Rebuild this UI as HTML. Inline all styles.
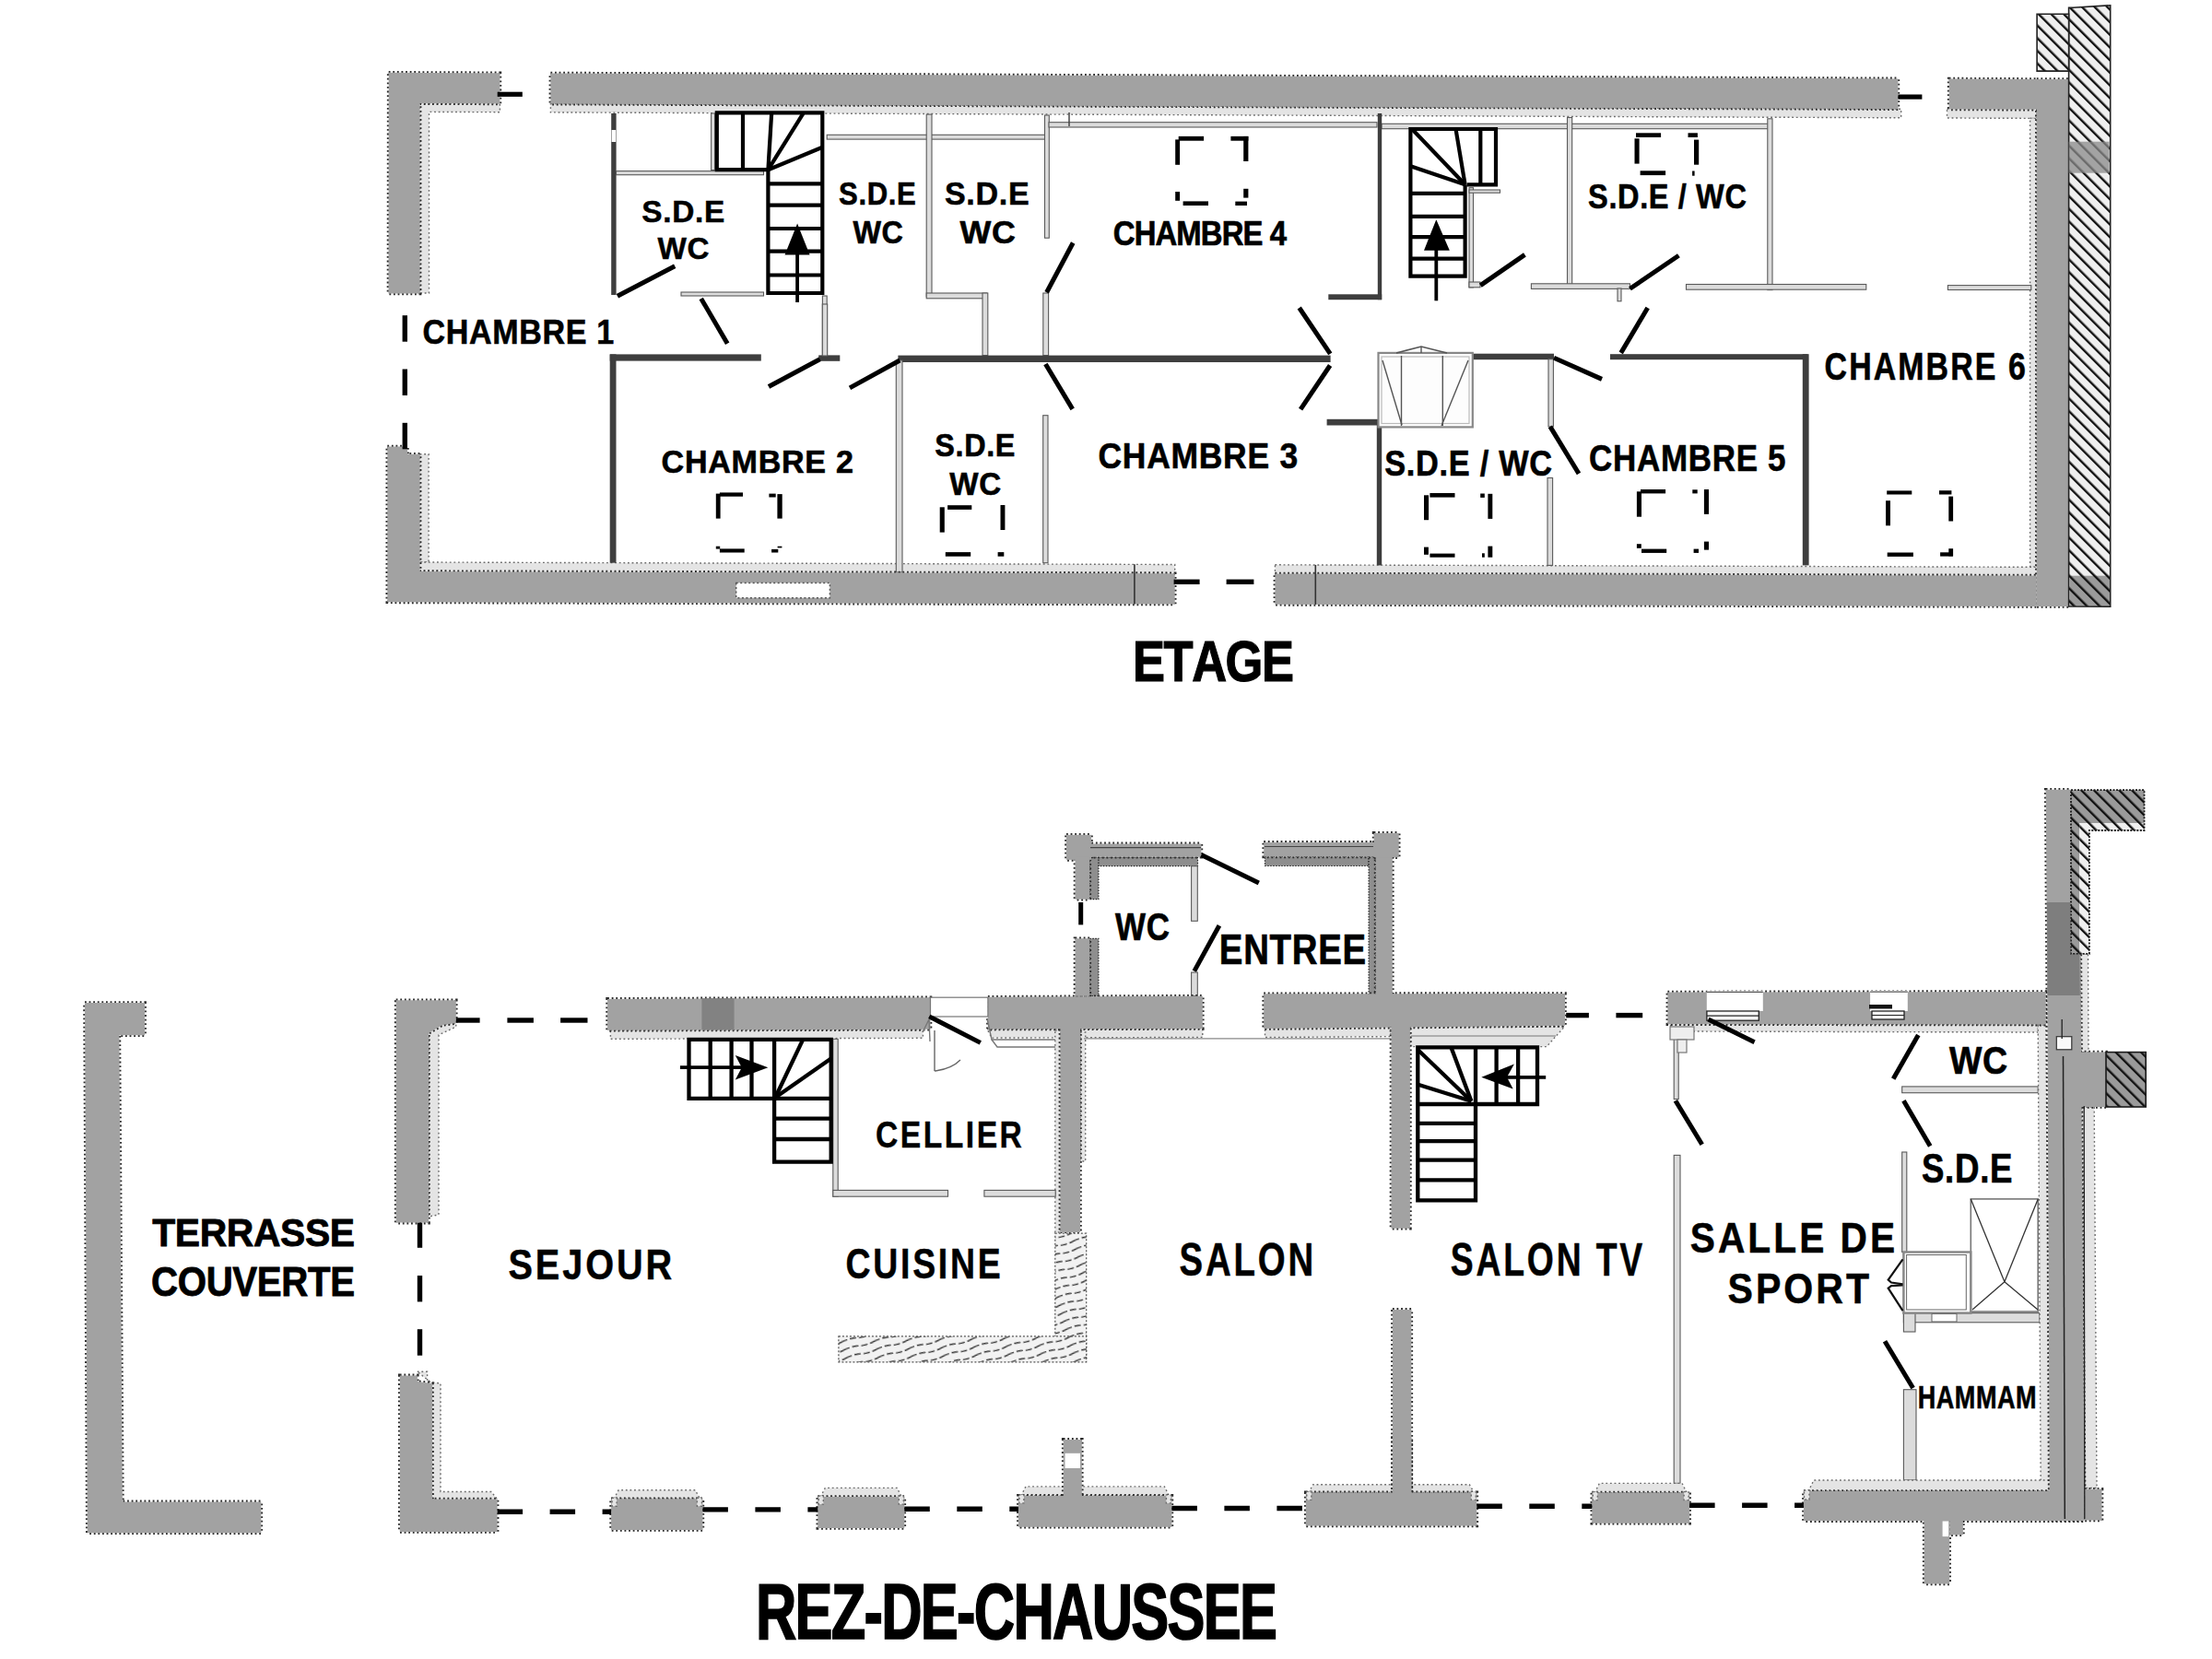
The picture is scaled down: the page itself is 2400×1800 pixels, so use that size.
<!DOCTYPE html>
<html><head><meta charset="utf-8"><title>Plan</title>
<style>
html,body{margin:0;padding:0;background:#fff;}
svg{display:block;}
text{font-family:"Liberation Sans",sans-serif;font-weight:bold;fill:#000;font-kerning:none;}
.ws{fill:none;stroke:#2a2a2a;stroke-width:3.6;stroke-dasharray:1.8 2.8;}
.wf{fill:#a2a2a2;}
.l{fill:#e4e4e4;stroke:#6a6a6a;stroke-width:1.4;stroke-dasharray:1.8 2.8;}
.p{fill:#dcdcdc;stroke:#5a5a5a;stroke-width:1.1;}
.d{fill:#3e3e3e;}
.wh{fill:#fff;}
.l2{fill:#8e8e8e;stroke:#222;stroke-width:1.2;stroke-dasharray:1.5 1.5;}
.h{fill:url(#hatch);stroke:#222;stroke-width:1.6;}
.wd{fill:url(#wood);stroke:#555;stroke-width:1.2;stroke-dasharray:2 2;}
</style></head><body>
<svg width="2400" height="1800" viewBox="0 0 2400 1800">
<defs>
<pattern id="hatch" patternUnits="userSpaceOnUse" width="9.7" height="9.7" patternTransform="rotate(-45)">
<rect width="9.7" height="9.7" fill="#efefef"/><line x1="1.2" y1="0" x2="1.2" y2="9.7" stroke="#111" stroke-width="2.4"/>
</pattern>
<pattern id="hatchg" patternUnits="userSpaceOnUse" width="9.7" height="9.7" patternTransform="rotate(-45)">
<rect width="9.7" height="9.7" fill="#9a9a9a"/><line x1="1.2" y1="0" x2="1.2" y2="9.7" stroke="#111" stroke-width="2.4"/>
</pattern>
<pattern id="wood" patternUnits="userSpaceOnUse" width="34" height="9" patternTransform="rotate(-16)">
<rect width="34" height="9" fill="#f2f2f2"/><path d="M0,4.5 Q9,2.5 17,4.5 T34,4.5" fill="none" stroke="#333" stroke-width="1.3" stroke-dasharray="7 3"/>
</pattern>
</defs>
<rect width="2400" height="1800" fill="#fff"/>
<polygon class="l" points="455.6,112.1 542.4,112.4 542.4,121.7 465.5,121.4 465.5,318 455.6,318"/>
<polygon class="l" points="597.4,112.6 2062.7,118.2 2062.7,127.8 597.4,121.9"/>
<polygon class="l" points="2112.5,118.4 2210,118.7 2210,128.4 2112.5,128"/>
<polygon class="l" points="2202.6,128.3 2210,128.4 2210,615.3 2202.6,615.2"/>
<polygon class="l" points="455.6,492.7 465.1,492.7 465.1,610 455.6,610"/>
<polygon class="l" points="455.6,610 1274.7,612.5 1274.7,622.2 455.6,620.1"/>
<polygon class="l" points="1383.4,612.8 2210,615.3 2210,624.6 1383.4,622.5"/>
<rect class="d" x="663.2" y="123" width="5.4" height="197"/>
<rect class="p" x="668.5" y="185.6" width="160" height="4.1"/>
<rect class="p" x="771.6" y="123" width="4" height="61.5"/>
<rect class="p" x="739" y="317" width="89.5" height="4"/>
<rect class="p" x="892.4" y="321" width="4.8" height="64.6"/>
<rect class="p" x="897.2" y="146.3" width="239.2" height="4.8"/>
<rect class="p" x="1005.2" y="124.1" width="5.8" height="197.8"/>
<rect class="p" x="1005.2" y="318" width="65.6" height="5.8"/>
<rect class="p" x="1066" y="318" width="5.8" height="67.6"/>
<rect class="p" x="1133.5" y="125" width="4.8" height="133.2"/>
<rect class="p" x="1131.8" y="318" width="5.8" height="67.6"/>
<rect class="p" x="1138" y="132.7" width="356" height="5.3"/>
<rect class="p" x="1499" y="134.3" width="420" height="5.4"/>
<rect class="d" x="1494.8" y="123" width="4.4" height="202.2"/>
<rect class="d" x="1441.3" y="319.3" width="57.9" height="5.9"/>
<rect class="p" x="1594" y="203.7" width="4.5" height="108.1"/>
<rect class="p" x="1594" y="206" width="33.5" height="3.2"/>
<rect class="p" x="1594" y="306" width="12" height="5.8"/>
<rect class="p" x="1700.5" y="127.5" width="5.2" height="181.7"/>
<rect class="p" x="1917.8" y="128.8" width="5.2" height="185.8"/>
<rect class="p" x="1661.4" y="307.8" width="107.1" height="5.6"/>
<rect class="p" x="1829.5" y="308.5" width="195.3" height="5.7"/>
<rect class="p" x="2113.4" y="309.6" width="90.4" height="4.9"/>
<rect class="p" x="1755" y="313" width="4" height="13.8"/>
<rect class="d" x="661.7" y="384.4" width="164.1" height="7.2"/>
<rect class="d" x="888.2" y="385.4" width="23.1" height="6.4"/>
<rect class="d" x="974.4" y="385.6" width="469.2" height="7.4"/>
<rect class="d" x="661.7" y="384.4" width="6.8" height="226.3"/>
<rect class="p" x="972.3" y="391" width="6.7" height="230"/>
<rect class="p" x="892.3" y="330" width="5.4" height="56"/>
<rect class="p" x="1131.7" y="450.7" width="5.3" height="160"/>
<rect class="d" x="1439.6" y="454.8" width="55.6" height="6.7"/>
<rect class="d" x="1493.8" y="455" width="5.4" height="158.4"/>
<rect class="d" x="1592.4" y="383.7" width="93.6" height="6.5"/>
<rect class="p" x="1680" y="389.7" width="5.4" height="73.2"/>
<rect class="p" x="1679" y="518.5" width="5.6" height="94.9"/>
<rect class="d" x="1747" y="384.2" width="214.3" height="6"/>
<rect class="d" x="1955.8" y="384.2" width="6.8" height="229.2"/>
<polygon class="l" points="465,1116 478,1112 494.8,1110 494.8,1114 476,1123 476,1318 465,1320"/>
<polygon class="l" points="452.8,1488.3 463.6,1488.3 463.6,1499 478,1501 478,1618.5 533,1618.5 539.6,1626.6 469,1626.6 469,1501"/>
<polygon class="l" points="662.4,1117.8 1001.4,1116.8 1001.4,1126.3 662.4,1127.3"/>
<polygon class="l" points="1071,1116.6 1150.4,1116.3 1150.4,1125.8 1076,1126.1"/>
<polygon class="l" points="1172,1116.3 1304.8,1115.9 1304.8,1125.4 1172,1125.8"/>
<polygon class="l" points="1372.5,1116 1509,1114.6 1509,1124.6 1372.5,1125.5"/>
<polygon class="l" points="1529.6,1113.7 1697.7,1113.7 1678,1135.6 1529.6,1135.6"/>
<polygon class="l" points="1809.4,1110.5 2211.2,1112 2211.2,1120 1820,1119"/>
<rect class="l2" x="1182.3" y="930" width="117.2" height="9.6"/>
<rect class="l2" x="1182.3" y="930" width="9.6" height="45.7"/>
<rect class="l2" x="1182.3" y="1018.3" width="9.6" height="62.4"/>
<rect class="p" x="1292.6" y="939.7" width="6.7" height="59.6"/>
<rect class="p" x="1292.6" y="1055" width="6.7" height="25.7"/>
<rect class="l2" x="1372.5" y="929.5" width="112.6" height="10"/>
<rect class="l2" x="1485.1" y="929.5" width="7.5" height="150"/>
<polygon class="l" points="1144.8,1118 1150.4,1118 1150.4,1337 1144.8,1337"/>
<polygon class="l" points="1172,1120 1177.7,1120 1177.7,1260 1172,1260"/>
<rect class="p" x="903.8" y="1127.3" width="5.4" height="170.9"/>
<rect class="p" x="903.8" y="1291.4" width="124.7" height="6.8"/>
<rect class="p" x="1067.9" y="1291.4" width="77.3" height="6.8"/>
<rect class="p" x="1816.2" y="1117.9" width="5" height="74.6"/>
<rect class="p" x="1816.2" y="1253.4" width="6.8" height="356"/>
<rect class="p" x="2063.7" y="1178.9" width="147.5" height="6.8"/>
<rect class="p" x="2063.7" y="1250" width="5.1" height="108.5"/>
<rect class="p" x="2065.4" y="1424.6" width="147.6" height="10.2"/>
<rect class="p" x="2065.4" y="1424.6" width="12.6" height="20.4"/>
<rect class="p" x="2065.4" y="1507.7" width="13.6" height="98.3"/>
<polygon class="l" points="2211.2,1112 2219.8,1112 2223.8,1610 2214.2,1610"/>
<polygon class="l" points="2257,1034.8 2265.5,1034.8 2266,1141.6 2257.5,1141.6"/>
<polygon class="l" points="2258.5,1201 2272.2,1201 2275,1614.5 2261.8,1614.5"/>
<polygon class="l" points="666.1,1626.2 671.1,1616.8 754.4,1616.8 759.4,1626.2"/>
<polygon class="l" points="890.3,1624.1 895.3,1614.4 973.3,1614.4 978.3,1624.1"/>
<polygon class="l" points="1107.9,1622.9 1112.9,1612.9 1263.4,1612.9 1268.4,1622.9"/>
<polygon class="l" points="1419.8,1619.4 1424.8,1610.7 1594.3,1610.7 1599.3,1619.4"/>
<polygon class="l" points="1730.3,1619.6 1735.3,1609.4 1825.1,1609.4 1830.1,1619.6"/>
<polygon class="l" points="1962,1618 1968,1606 2223,1606 2223,1618"/>
<polygon class="ws" points="421.7,78.8 542.4,79.3 542.4,112.4 455.6,112.1 455.6,318.5 421.5,318.5"/>
<polygon class="ws" points="597.4,79.5 2059.4,85.4 2059.4,118.2 597.4,112.6"/>
<polygon class="ws" points="2114.7,85.6 2210.8,86 2210.8,118.7 2114.7,118.4"/>
<polygon class="ws" points="2209.8,86 2244.6,86.1 2244.6,658 2209.8,657.9"/>
<polygon class="ws" points="420.3,484.6 442,484.6 442,492.7 455.6,492.7 455.6,620.1 1274.7,622.2 1274.7,655.5 420.3,653.3"/>
<polygon class="ws" points="1383.4,622.5 2209.8,624.6 2209.8,657.9 1383.4,655.8"/>
<polygon class="ws" points="92,1088 157.1,1088 157.1,1123.2 129.4,1123.2 132.9,1629.4 283.3,1629.4 283.3,1663.3 94.8,1663.3"/>
<polygon class="ws" points="429.7,1085.3 494.8,1085.3 494.8,1110 480,1112 465,1121 465,1326.6 429.7,1326.6"/>
<polygon class="ws" points="433.8,1492.4 452.8,1492.4 452.8,1499 469,1501 469,1626.6 539.6,1626.6 539.6,1661.9 433.8,1661.9"/>
<polygon class="ws" points="659.1,1083.9 1009.5,1082.2 1009.5,1116.8 659.1,1117.8"/>
<polygon class="ws" points="1071.9,1081.8 1304.8,1080.7 1304.8,1115.9 1071.9,1116.6"/>
<polygon class="ws" points="1371.2,1078.3 1698,1078 1698,1112.8 1371.2,1116"/>
<polygon class="ws" points="1809.4,1076.5 2219.7,1076 2219.7,1111.6 1809.4,1111.1"/>
<polygon class="ws" points="1157,905.8 1184,905.8 1184,932.9 1157,932.9"/>
<polygon class="ws" points="1170.5,915.4 1303.4,915.4 1303.4,929.8 1170.5,929.8"/>
<polygon class="ws" points="1166.5,929.8 1182.3,929.8 1182.3,975.7 1166.5,975.7"/>
<polygon class="ws" points="1166.5,1018.3 1182.3,1018.3 1182.3,1080.7 1166.5,1080.7"/>
<polygon class="ws" points="1371.2,913.9 1504.1,913.9 1504.1,929.5 1371.2,929.5"/>
<polygon class="ws" points="1492.6,929.5 1510.8,929.5 1510.8,1079.3 1492.6,1079.3"/>
<polygon class="ws" points="1490.6,903.9 1517.7,903.9 1517.7,930.2 1490.6,930.2"/>
<polygon class="ws" points="1150.4,1116 1172,1116 1172,1337 1150.4,1337"/>
<polygon class="ws" points="1509.5,1112.8 1529.9,1112.8 1529.9,1332.7 1509.5,1332.7"/>
<polygon class="ws" points="1510.9,1420.9 1531.3,1420.9 1531.3,1620 1510.9,1620"/>
<polygon class="ws" points="2219.7,856.8 2246.8,856.8 2246.8,1034.8 2257.3,1034.8 2261.8,1649.5 2223.8,1649.5 2221.5,1112"/>
<polygon class="ws" points="2257,1141.6 2285,1141.6 2285,1201 2257,1201"/>
<polygon class="ws" points="2261.8,1615.7 2280.5,1615.7 2280.5,1649.5 2261.8,1649.5"/>
<polygon class="ws" points="663.1,1626.2 762.4,1626.2 762.4,1660 663.1,1660"/>
<polygon class="ws" points="887.3,1624.1 981.3,1624.1 981.3,1657.9 887.3,1657.9"/>
<polygon class="ws" points="1104.9,1622.9 1271.4,1622.9 1271.4,1656.8 1104.9,1656.8"/>
<polygon class="ws" points="1153.7,1561.9 1173.8,1561.9 1173.8,1622.9 1153.7,1622.9"/>
<polygon class="ws" points="1416.8,1619.4 1602.3,1619.4 1602.3,1655.5 1416.8,1655.5"/>
<polygon class="ws" points="1510.9,1560 1531.3,1560 1531.3,1625 1510.9,1625"/>
<polygon class="ws" points="1727.3,1619.6 1833.1,1619.6 1833.1,1652.8 1727.3,1652.8"/>
<polygon class="ws" points="1956.9,1618 2260.4,1618 2260.4,1650.1 1956.9,1650.1"/>
<polygon class="ws" points="2087.7,1649.6 2115.2,1649.6 2115.2,1718.4 2087.7,1718.4"/>
<polygon class="ws" points="2115.2,1649.6 2129.9,1649.6 2129.9,1665.3 2115.2,1665.3"/>
<polygon class="wf" points="421.7,78.8 542.4,79.3 542.4,112.4 455.6,112.1 455.6,318.5 421.5,318.5"/>
<polygon class="wf" points="597.4,79.5 2059.4,85.4 2059.4,118.2 597.4,112.6"/>
<polygon class="wf" points="2114.7,85.6 2210.8,86 2210.8,118.7 2114.7,118.4"/>
<polygon class="wf" points="2209.8,86 2244.6,86.1 2244.6,658 2209.8,657.9"/>
<polygon class="wf" points="420.3,484.6 442,484.6 442,492.7 455.6,492.7 455.6,620.1 1274.7,622.2 1274.7,655.5 420.3,653.3"/>
<polygon class="wf" points="1383.4,622.5 2209.8,624.6 2209.8,657.9 1383.4,655.8"/>
<polygon class="wf" points="92,1088 157.1,1088 157.1,1123.2 129.4,1123.2 132.9,1629.4 283.3,1629.4 283.3,1663.3 94.8,1663.3"/>
<polygon class="wf" points="429.7,1085.3 494.8,1085.3 494.8,1110 480,1112 465,1121 465,1326.6 429.7,1326.6"/>
<polygon class="wf" points="433.8,1492.4 452.8,1492.4 452.8,1499 469,1501 469,1626.6 539.6,1626.6 539.6,1661.9 433.8,1661.9"/>
<polygon class="wf" points="659.1,1083.9 1009.5,1082.2 1009.5,1116.8 659.1,1117.8"/>
<polygon class="wf" points="1071.9,1081.8 1304.8,1080.7 1304.8,1115.9 1071.9,1116.6"/>
<polygon class="wf" points="1371.2,1078.3 1698,1078 1698,1112.8 1371.2,1116"/>
<polygon class="wf" points="1809.4,1076.5 2219.7,1076 2219.7,1111.6 1809.4,1111.1"/>
<polygon class="wf" points="1157,905.8 1184,905.8 1184,932.9 1157,932.9"/>
<polygon class="wf" points="1170.5,915.4 1303.4,915.4 1303.4,929.8 1170.5,929.8"/>
<polygon class="wf" points="1166.5,929.8 1182.3,929.8 1182.3,975.7 1166.5,975.7"/>
<polygon class="wf" points="1166.5,1018.3 1182.3,1018.3 1182.3,1080.7 1166.5,1080.7"/>
<polygon class="wf" points="1371.2,913.9 1504.1,913.9 1504.1,929.5 1371.2,929.5"/>
<polygon class="wf" points="1492.6,929.5 1510.8,929.5 1510.8,1079.3 1492.6,1079.3"/>
<polygon class="wf" points="1490.6,903.9 1517.7,903.9 1517.7,930.2 1490.6,930.2"/>
<polygon class="wf" points="1150.4,1116 1172,1116 1172,1337 1150.4,1337"/>
<polygon class="wf" points="1509.5,1112.8 1529.9,1112.8 1529.9,1332.7 1509.5,1332.7"/>
<polygon class="wf" points="1510.9,1420.9 1531.3,1420.9 1531.3,1620 1510.9,1620"/>
<polygon class="wf" points="2219.7,856.8 2246.8,856.8 2246.8,1034.8 2257.3,1034.8 2261.8,1649.5 2223.8,1649.5 2221.5,1112"/>
<polygon class="wf" points="2257,1141.6 2285,1141.6 2285,1201 2257,1201"/>
<polygon class="wf" points="2261.8,1615.7 2280.5,1615.7 2280.5,1649.5 2261.8,1649.5"/>
<polygon class="wf" points="663.1,1626.2 762.4,1626.2 762.4,1660 663.1,1660"/>
<polygon class="wf" points="887.3,1624.1 981.3,1624.1 981.3,1657.9 887.3,1657.9"/>
<polygon class="wf" points="1104.9,1622.9 1271.4,1622.9 1271.4,1656.8 1104.9,1656.8"/>
<polygon class="wf" points="1153.7,1561.9 1173.8,1561.9 1173.8,1622.9 1153.7,1622.9"/>
<polygon class="wf" points="1416.8,1619.4 1602.3,1619.4 1602.3,1655.5 1416.8,1655.5"/>
<polygon class="wf" points="1510.9,1560 1531.3,1560 1531.3,1625 1510.9,1625"/>
<polygon class="wf" points="1727.3,1619.6 1833.1,1619.6 1833.1,1652.8 1727.3,1652.8"/>
<polygon class="wf" points="1956.9,1618 2260.4,1618 2260.4,1650.1 1956.9,1650.1"/>
<polygon class="wf" points="2087.7,1649.6 2115.2,1649.6 2115.2,1718.4 2087.7,1718.4"/>
<polygon class="wf" points="2115.2,1649.6 2129.9,1649.6 2129.9,1665.3 2115.2,1665.3"/>
<polygon class="h" points="2244.6,8.3 2249.2,8.3 2289.7,5.8 2289.7,658.1 2244.6,658"/>
<polygon class="h" points="2210.1,15.2 2244.6,15.2 2244.6,77.1 2210.1,77.1"/>
<rect x="2244.6" y="153.7" width="43.9" height="34" fill="#8a8a8a" opacity="0.75"/>
<rect x="2245.5" y="624.7" width="43.5" height="32.3" fill="url(#hatchg)"/>
<rect class="wh" x="798.7" y="632.4" width="101.7" height="16.3"/>
<rect x="798.7" y="632.4" width="101.7" height="16.3" fill="none" stroke="#555" stroke-width="1.5" stroke-dasharray="2 2.5"/>
<line x1="1230.9" y1="612.3" x2="1230.9" y2="655.4" stroke="#333" stroke-width="1.6"/>
<line x1="1427.3" y1="612.9" x2="1427.3" y2="655.9" stroke="#333" stroke-width="1.6"/>
<line x1="539.7" y1="102.3" x2="566.8" y2="102.3" stroke="#000" stroke-width="5.2"/>
<line x1="2059.4" y1="105.1" x2="2085.4" y2="105.1" stroke="#000" stroke-width="5.2"/>
<line x1="1273.6" y1="631.3" x2="1301.6" y2="631.3" stroke="#000" stroke-width="5.4"/>
<line x1="1330.6" y1="631.3" x2="1360.4" y2="631.3" stroke="#000" stroke-width="5.4"/>
<line x1="439.3" y1="342.2" x2="439.3" y2="370.7" stroke="#000" stroke-width="5.4"/>
<line x1="439.3" y1="400.5" x2="439.3" y2="429" stroke="#000" stroke-width="5.4"/>
<line x1="439.3" y1="458.8" x2="439.3" y2="487.3" stroke="#000" stroke-width="5.4"/>
<rect class="wh" x="663.6" y="141" width="4.6" height="13"/>
<line x1="1160" y1="122" x2="1160" y2="137" stroke="#444" stroke-width="1.5"/>
<rect x="1495.5" y="382.9" width="102.3" height="80.5" fill="#fdfdfd" stroke="#888" stroke-width="2.2" />
<rect x="1499" y="387" width="95" height="72.5" fill="none" stroke="#bbb" stroke-width="1.2" />
<line x1="1520.5" y1="386" x2="1520.5" y2="462" stroke="#555" stroke-width="1.4"/>
<line x1="1565.3" y1="386" x2="1565.3" y2="462" stroke="#555" stroke-width="1.4"/>
<line x1="1500" y1="391" x2="1521" y2="461" stroke="#555" stroke-width="1.4"/>
<line x1="1593" y1="391" x2="1564" y2="462" stroke="#555" stroke-width="1.4"/>
<polyline points="1515,383 1542,376 1570,383" fill="none" stroke="#555" stroke-width="1.6" />
<line x1="1542" y1="376" x2="1542" y2="383" stroke="#555" stroke-width="1.4"/>
<polyline points="833.4,184.2 777.8,184.2 777.8,122.3 892.3,122.3 892.3,318 833.4,318 833.4,184.2" fill="none" stroke="#000" stroke-width="4.2" />
<line x1="806" y1="122.3" x2="806" y2="184.2" stroke="#000" stroke-width="4.2"/>
<line x1="833.4" y1="199.4" x2="892.3" y2="199.4" stroke="#000" stroke-width="4.2"/>
<line x1="833.4" y1="222.7" x2="892.3" y2="222.7" stroke="#000" stroke-width="4.2"/>
<line x1="833.4" y1="248" x2="892.3" y2="248" stroke="#000" stroke-width="4.2"/>
<line x1="833.4" y1="272.6" x2="892.3" y2="272.6" stroke="#000" stroke-width="4.2"/>
<line x1="833.4" y1="298.5" x2="892.3" y2="298.5" stroke="#000" stroke-width="4.2"/>
<line x1="833.4" y1="184.2" x2="837.2" y2="122.3" stroke="#000" stroke-width="4.2"/>
<line x1="833.4" y1="184.2" x2="871.9" y2="122.3" stroke="#000" stroke-width="4.2"/>
<line x1="833.4" y1="184.2" x2="892.3" y2="159.8" stroke="#000" stroke-width="4.2"/>
<line x1="865.1" y1="262" x2="865.1" y2="328" stroke="#000" stroke-width="3.8"/>
<polygon points="865.1,242.6 851.5,276.5 878.6,276.5" fill="#000" stroke="none" stroke-width="0" />
<polyline points="1591.8,200.3 1623,200.3 1623,140 1530.4,140 1530.4,299.6 1589.6,299.6 1589.6,200.3" fill="none" stroke="#000" stroke-width="4.2" />
<line x1="1606.3" y1="140" x2="1606.3" y2="200.3" stroke="#000" stroke-width="4.2"/>
<line x1="1530.4" y1="209.9" x2="1589.6" y2="209.9" stroke="#000" stroke-width="4.2"/>
<line x1="1530.4" y1="234.9" x2="1589.6" y2="234.9" stroke="#000" stroke-width="4.2"/>
<line x1="1530.4" y1="257.2" x2="1589.6" y2="257.2" stroke="#000" stroke-width="4.2"/>
<line x1="1530.4" y1="280.6" x2="1589.6" y2="280.6" stroke="#000" stroke-width="4.2"/>
<line x1="1589.6" y1="200.3" x2="1532" y2="140" stroke="#000" stroke-width="4.2"/>
<line x1="1589.6" y1="200.3" x2="1579.5" y2="140" stroke="#000" stroke-width="4.2"/>
<line x1="1589.6" y1="200.3" x2="1530.4" y2="180.2" stroke="#000" stroke-width="4.2"/>
<line x1="1558.3" y1="258" x2="1558.3" y2="326.3" stroke="#000" stroke-width="3.8"/>
<polygon points="1558.3,238.2 1545,271.7 1572.8,271.7" fill="#000" stroke="none" stroke-width="0" />
<line x1="669.9" y1="321.2" x2="732.2" y2="288.7" stroke="#000" stroke-width="5"/>
<line x1="760.7" y1="323.9" x2="789.2" y2="372.7" stroke="#000" stroke-width="5"/>
<line x1="834" y1="419.5" x2="889.6" y2="389.7" stroke="#000" stroke-width="5"/>
<line x1="922" y1="420.9" x2="976.3" y2="391" stroke="#000" stroke-width="5"/>
<line x1="1135.6" y1="317.2" x2="1164.2" y2="263.5" stroke="#000" stroke-width="5"/>
<line x1="1134.4" y1="395" x2="1163.7" y2="443.9" stroke="#000" stroke-width="5"/>
<line x1="1409.7" y1="334" x2="1443.3" y2="383.8" stroke="#000" stroke-width="5"/>
<line x1="1443.1" y1="396.5" x2="1411.1" y2="444.2" stroke="#000" stroke-width="5"/>
<line x1="1606.3" y1="309.6" x2="1654.4" y2="276.4" stroke="#000" stroke-width="5"/>
<line x1="1768.5" y1="313.3" x2="1821.4" y2="277.2" stroke="#000" stroke-width="5"/>
<line x1="1758.7" y1="382.9" x2="1787.7" y2="334" stroke="#000" stroke-width="5"/>
<line x1="1686" y1="388.3" x2="1738" y2="411.4" stroke="#000" stroke-width="5"/>
<line x1="1681.9" y1="462.9" x2="1713" y2="513.9" stroke="#000" stroke-width="5"/>
<rect x="1278.7" y="147.9" width="27.4" height="4.8"/>
<rect x="1275.2" y="151.4" width="4.9" height="27.4"/>
<rect x="1335.4" y="147.9" width="19" height="4.8"/>
<rect x="1349.2" y="147.9" width="5.2" height="27.1"/>
<rect x="1275.2" y="208" width="4.9" height="9.8"/>
<rect x="1283.6" y="218.4" width="27.4" height="4.6"/>
<rect x="1349.2" y="204.8" width="5.2" height="9.8"/>
<rect x="1340.3" y="218.6" width="12.7" height="4.4"/>
<rect x="1775" y="144.3" width="27.1" height="4.7"/>
<rect x="1773.5" y="150.3" width="5.1" height="27.3"/>
<rect x="1831.5" y="144.3" width="10.4" height="4.7"/>
<rect x="1838" y="151.6" width="5.2" height="27.1"/>
<rect x="1779.6" y="185.3" width="27.5" height="4.8"/>
<rect x="1836.1" y="185.5" width="2.5" height="5.2"/>
<rect x="780.9" y="534.4" width="25.1" height="4.3"/>
<rect x="776.8" y="535.6" width="4.8" height="27"/>
<rect x="834.4" y="535.6" width="7.3" height="3.9"/>
<rect x="843.4" y="536.1" width="5.3" height="26.5"/>
<rect x="776.8" y="592.7" width="4.4" height="2.9"/>
<rect x="780.9" y="595.4" width="26.8" height="4.1"/>
<rect x="837.1" y="595.9" width="7.2" height="3.6"/>
<rect x="843.6" y="592.7" width="4.8" height="1.7"/>
<rect x="1028.1" y="548.2" width="26.2" height="4.7"/>
<rect x="1019.7" y="550.3" width="5.1" height="27.3"/>
<rect x="1085.5" y="548" width="4.9" height="27"/>
<rect x="1025.8" y="599.1" width="27.4" height="4.6"/>
<rect x="1082.6" y="599.1" width="6.7" height="4.6"/>
<rect x="1551.4" y="535" width="27.1" height="4.6"/>
<rect x="1545" y="537.3" width="5.1" height="26.9"/>
<rect x="1606.2" y="535.5" width="4.6" height="4.4"/>
<rect x="1614.4" y="535.8" width="4.9" height="27.1"/>
<rect x="1545" y="593.6" width="4.9" height="8.2"/>
<rect x="1551.4" y="600.6" width="27.1" height="4.1"/>
<rect x="1608" y="600.3" width="2.8" height="4.4"/>
<rect x="1614.4" y="592.6" width="4.9" height="12.1"/>
<rect x="1780" y="531" width="27.1" height="4.4"/>
<rect x="1775.9" y="533.3" width="5.1" height="27.4"/>
<rect x="1836.3" y="531.3" width="5.4" height="4.1"/>
<rect x="1848.9" y="531" width="5.1" height="26.9"/>
<rect x="1775.9" y="590.2" width="4.9" height="4.6"/>
<rect x="1781" y="595.6" width="27.2" height="4.3"/>
<rect x="1837.6" y="595.6" width="5.4" height="4.3"/>
<rect x="1848.9" y="587.6" width="5.1" height="9"/>
<rect x="2047.2" y="532.4" width="27.1" height="4.1"/>
<rect x="2046.1" y="543.2" width="4.9" height="27.1"/>
<rect x="2104" y="532.2" width="13.4" height="4.3"/>
<rect x="2114.3" y="538.6" width="4.8" height="26.9"/>
<rect x="2047.7" y="599.5" width="28.2" height="4.4"/>
<rect x="2105.1" y="599.3" width="13.8" height="4.3"/>
<rect x="2114.3" y="595.2" width="4.8" height="8.2"/>
<text transform="translate(458.6,372.7) scale(0.9132,1)" font-size="37.3" style="letter-spacing:0.7px" stroke="#000" stroke-width="0.6">CHAMBRE 1</text>
<text transform="translate(696.3,241.4) scale(1.0152,1)" font-size="32.9" style="letter-spacing:0.7px" stroke="#000" stroke-width="0.5">S.D.E</text>
<text transform="translate(713.5,281.3) scale(0.9857,1)" font-size="33.7" style="letter-spacing:0.7px" stroke="#000" stroke-width="0.5">WC</text>
<text transform="translate(910.1,221.9) scale(0.8960,1)" font-size="34.7" style="letter-spacing:0.7px" stroke="#000" stroke-width="0.6">S.D.E</text>
<text transform="translate(925.4,264.4) scale(0.9307,1)" font-size="34.7" style="letter-spacing:0.7px" stroke="#000" stroke-width="0.6">WC</text>
<text transform="translate(1024.9,221.8) scale(0.9942,1)" font-size="34.3" style="letter-spacing:0.7px" stroke="#000" stroke-width="0.5">S.D.E</text>
<text transform="translate(1041.6,264.2) scale(1.0406,1)" font-size="34.4" style="letter-spacing:0.7px" stroke="#000" stroke-width="0.6">WC</text>
<text transform="translate(1207.8,266.3) scale(0.8831,1)" font-size="37.2" style="letter-spacing:-1px" stroke="#000" stroke-width="0.7">CHAMBRE 4</text>
<text transform="translate(1723.1,225.5) scale(0.8681,1)" font-size="37.5" style="letter-spacing:0.7px" stroke="#000" stroke-width="0.6">S.D.E / WC</text>
<text transform="translate(1979.6,412.1) scale(0.7948,1)" font-size="42.7" style="letter-spacing:2.6px" stroke="#000" stroke-width="0.6">CHAMBRE 6</text>
<text transform="translate(717.6,513.3) scale(0.9804,1)" font-size="34.8" style="letter-spacing:0.7px" stroke="#000" stroke-width="0.6">CHAMBRE 2</text>
<text transform="translate(1014.3,495.4) scale(0.9195,1)" font-size="35.2" style="letter-spacing:0.7px" stroke="#000" stroke-width="0.6">S.D.E</text>
<text transform="translate(1030.2,536.9) scale(0.9322,1)" font-size="35.6" style="letter-spacing:0.7px" stroke="#000" stroke-width="0.6">WC</text>
<text transform="translate(1191.5,507.8) scale(0.9187,1)" font-size="38.6" style="letter-spacing:0.8px" stroke="#000" stroke-width="0.6">CHAMBRE 3</text>
<text transform="translate(1502.2,515.5) scale(0.8918,1)" font-size="38.5" style="letter-spacing:0.8px" stroke="#000" stroke-width="0.6">S.D.E / WC</text>
<text transform="translate(1724.1,510.5) scale(0.8785,1)" font-size="39.8" style="letter-spacing:0.8px" stroke="#000" stroke-width="0.6">CHAMBRE 5</text>
<text transform="translate(1229,738.8) scale(0.8434,1)" font-size="62.2" style="letter-spacing:-1.7px" stroke="#000" stroke-width="1.2">ETAGE</text>
<line x1="455.5" y1="1326.6" x2="455.5" y2="1353.8" stroke="#000" stroke-width="5.4"/>
<line x1="455.5" y1="1384" x2="455.5" y2="1412.4" stroke="#000" stroke-width="5.4"/>
<line x1="455.5" y1="1442.2" x2="455.5" y2="1470.7" stroke="#000" stroke-width="5.4"/>
<line x1="494.8" y1="1107" x2="520.6" y2="1107" stroke="#000" stroke-width="5.4"/>
<line x1="550.4" y1="1107" x2="578.9" y2="1107" stroke="#000" stroke-width="5.4"/>
<line x1="608.1" y1="1107" x2="637.5" y2="1107" stroke="#000" stroke-width="5.4"/>
<line x1="1699.2" y1="1101.6" x2="1723.9" y2="1101.6" stroke="#000" stroke-width="5.4"/>
<line x1="1753.4" y1="1101.6" x2="1782.2" y2="1101.6" stroke="#000" stroke-width="5.4"/>
<rect x="761.4" y="1083" width="35.2" height="34.5" fill="#7a7a7a" opacity="0.8"/>
<rect class="wh" x="1009.5" y="1082.2" width="62.4" height="20.8"/>
<rect x="1009.5" y="1082.2" width="62.4" height="20.8" fill="none" stroke="#777" stroke-width="1.2"/>
<line x1="1531" y1="1124" x2="1688" y2="1124" stroke="#777" stroke-width="1"/>
<line x1="1176" y1="1126.8" x2="1509.5" y2="1126.8" stroke="#888" stroke-width="1.3"/>
<rect class="wh" x="1851.8" y="1075.2" width="61" height="21.8"/>
<rect class="wh" x="2029.1" y="1075" width="40.7" height="22"/>
<line x1="1851.8" y1="1076.4" x2="1912.8" y2="1076.4" stroke="#555" stroke-width="1.2"/>
<line x1="2029.1" y1="1076.2" x2="2069.8" y2="1076.2" stroke="#555" stroke-width="1.2"/>
<rect x="1851.9" y="1097" width="56.4" height="10.2" fill="#f6f6f6" stroke="#222" stroke-width="1.3" />
<line x1="1852" y1="1102.1" x2="1908" y2="1102.1" stroke="#222" stroke-width="1.1"/>
<rect x="2031" y="1097" width="35" height="9" fill="#f6f6f6" stroke="#222" stroke-width="1.3" />
<line x1="2031" y1="1101.5" x2="2066" y2="1101.5" stroke="#222" stroke-width="1.1"/>
<rect x="2028" y="1090" width="25" height="4.5" fill="#111"/>
<line x1="1183" y1="919.6" x2="1303" y2="919.6" stroke="#444" stroke-width="1.2"/>
<line x1="1172.7" y1="979" x2="1172.7" y2="1003.4" stroke="#000" stroke-width="5"/>
<line x1="1372" y1="918.5" x2="1490" y2="918.5" stroke="#444" stroke-width="1.2"/>
<rect class="wd" x="1144.8" y="1338.1" width="33.9" height="138.4"/>
<rect class="wd" x="909.9" y="1449.9" width="268.8" height="27.9"/>
<line x1="1008.2" y1="1102.9" x2="1063.8" y2="1131.4" stroke="#000" stroke-width="5"/>
<line x1="1014" y1="1118" x2="1014" y2="1162" stroke="#666" stroke-width="1.4"/>
<path d="M1014,1162 Q1032,1160 1042,1150" fill="none" stroke="#666" stroke-width="1.4"/>
<polyline points="1001,1120 1008,1106 1009,1130" fill="none" stroke="#777" stroke-width="1.4" />
<polyline points="1071,1105 1076,1128 1145,1128" fill="none" stroke="#777" stroke-width="1.4" />
<polyline points="1076,1128 1082,1136 1145,1136" fill="none" stroke="#777" stroke-width="1.4" />
<rect x="1812" y="1114" width="26" height="14" fill="#eee" stroke="#777" stroke-width="1.2" />
<rect x="1820" y="1128" width="10" height="14" fill="#eee" stroke="#777" stroke-width="1.2" />
<rect x="2138.3" y="1300.9" width="72.9" height="122.1" fill="#fff" stroke="#777" stroke-width="1.6" />
<line x1="2138.3" y1="1300.9" x2="2174.9" y2="1390.7" stroke="#333" stroke-width="1.3"/>
<line x1="2211.2" y1="1300.9" x2="2174.9" y2="1390.7" stroke="#333" stroke-width="1.3"/>
<line x1="2174.9" y1="1390.7" x2="2140" y2="1421" stroke="#333" stroke-width="1.3"/>
<line x1="2174.9" y1="1390.7" x2="2211" y2="1421" stroke="#333" stroke-width="1.3"/>
<rect x="2065.4" y="1358.5" width="72.9" height="66.1" fill="#fff" stroke="#888" stroke-width="2.5" />
<rect x="2068.6" y="1361.5" width="64.7" height="59.5" fill="none" stroke="#666" stroke-width="1" />
<polyline points="2064.5,1366.3 2048.7,1388.5 2052,1391.5 2064.5,1393.4" fill="none" stroke="#111" stroke-width="2.2" />
<polyline points="2064.5,1394.5 2052,1395.2 2048.7,1397.7 2064.5,1422.2" fill="none" stroke="#111" stroke-width="2.2" />
<rect class="wh" x="2096" y="1425.5" width="27" height="8.5"/>
<rect x="2096" y="1425.5" width="27" height="8.5" fill="none" stroke="#666" stroke-width="1" />
<polygon fill="url(#hatchg)" points="2247,857.2 2326.5,857.2 2326.5,893 2256.3,893 2256.3,1034.9 2247,1034.9"/>
<polygon fill="url(#hatch)" points="2256.3,893 2326.5,893 2326.5,901 2266.9,901 2266.9,1034.9 2256.3,1034.9"/>
<polygon fill="none" stroke="#1a1a1a" stroke-width="1.8" stroke-dasharray="2 1.5" points="2247,857.2 2326.5,857.2 2326.5,901 2266.9,901 2266.9,1034.9 2247,1034.9"/>
<polygon points="2221,979 2247,979 2247,1034.9 2256.3,1034.9 2256.8,1080 2221.5,1080" fill="#5a5a5a" opacity="0.5"/>
<line x1="2238.5" y1="1146" x2="2240.3" y2="1648" stroke="#222" stroke-width="1.5"/>
<rect x="2231.3" y="1124.7" width="16.5" height="14.1" fill="#fafafa" stroke="#333" stroke-width="1.2" />
<line x1="2237.2" y1="1106" x2="2237.2" y2="1127" stroke="#222" stroke-width="1.3"/>
<line x1="2261.2" y1="1200" x2="2261.8" y2="1648" stroke="#222" stroke-width="1.3"/>
<rect fill="url(#hatchg)" stroke="#1a1a1a" stroke-width="1.6" x="2285" y="1141.6" width="43.2" height="59.4"/>
<line x1="1853.5" y1="1106" x2="1903.6" y2="1130.8" stroke="#000" stroke-width="5"/>
<line x1="1817.9" y1="1194.2" x2="1846.7" y2="1241.7" stroke="#000" stroke-width="5"/>
<line x1="2081.3" y1="1123" x2="2054.2" y2="1170.4" stroke="#000" stroke-width="5"/>
<line x1="2065.4" y1="1194.2" x2="2094.2" y2="1243.4" stroke="#000" stroke-width="5"/>
<line x1="2045" y1="1455.2" x2="2075.6" y2="1506" stroke="#000" stroke-width="5"/>
<line x1="1295.8" y1="1053.6" x2="1322.9" y2="1004.2" stroke="#000" stroke-width="5"/>
<line x1="1303.4" y1="927.5" x2="1365.8" y2="958.1" stroke="#000" stroke-width="5"/>
<polygon class="l" points="664.1,1625.2 669.1,1625.2 669.1,1634.2 664.1,1634.2"/>
<polygon class="l" points="756.4,1625.2 761.4,1625.2 761.4,1634.2 756.4,1634.2"/>
<polygon class="l" points="888.3,1623.1 893.3,1623.1 893.3,1632.1 888.3,1632.1"/>
<polygon class="l" points="975.3,1623.1 980.3,1623.1 980.3,1632.1 975.3,1632.1"/>
<polygon class="l" points="1105.9,1621.9 1110.9,1621.9 1110.9,1630.9 1105.9,1630.9"/>
<polygon class="l" points="1265.4,1621.9 1270.4,1621.9 1270.4,1630.9 1265.4,1630.9"/>
<rect class="wh" x="1155.5" y="1576.8" width="16.5" height="16.2"/>
<polygon class="l" points="1417.8,1618.4 1422.8,1618.4 1422.8,1627.4 1417.8,1627.4"/>
<polygon class="l" points="1596.3,1618.4 1601.3,1618.4 1601.3,1627.4 1596.3,1627.4"/>
<polygon class="l" points="1728.3,1618.6 1733.3,1618.6 1733.3,1627.6 1728.3,1627.6"/>
<polygon class="l" points="1827.1,1618.6 1832.1,1618.6 1832.1,1627.6 1827.1,1627.6"/>
<rect class="wh" x="2107.6" y="1650.5" width="6.6" height="16.6"/>
<polygon class="l" points="1957.5,1617 1963,1617 1963,1627 1957.5,1627"/>
<line x1="539.6" y1="1640.3" x2="663.1" y2="1640.3" stroke="#000" stroke-width="5.4" stroke-dasharray="27.5 29.5"/>
<line x1="762.4" y1="1637.9" x2="887.3" y2="1637.9" stroke="#000" stroke-width="5.4" stroke-dasharray="27.5 29.5"/>
<line x1="981.3" y1="1637.2" x2="1104.9" y2="1637.2" stroke="#000" stroke-width="5.4" stroke-dasharray="27.5 29.5"/>
<line x1="1271.4" y1="1636.5" x2="1416.8" y2="1636.5" stroke="#000" stroke-width="5.4" stroke-dasharray="27.5 29.5"/>
<line x1="1602.3" y1="1634.2" x2="1727.3" y2="1634.2" stroke="#000" stroke-width="5.4" stroke-dasharray="27.5 29.5"/>
<line x1="1833.1" y1="1633.2" x2="1956.9" y2="1633.2" stroke="#000" stroke-width="5.4" stroke-dasharray="27.5 29.5"/>
<polyline points="840.1,1191.9 747.5,1191.9 747.5,1127.9 901.7,1127.9 901.7,1260.6 840.1,1260.6 840.1,1191.9" fill="none" stroke="#000" stroke-width="4.3" />
<line x1="770.7" y1="1127.9" x2="770.7" y2="1191.9" stroke="#000" stroke-width="4.3"/>
<line x1="793.6" y1="1127.9" x2="793.6" y2="1191.9" stroke="#000" stroke-width="4.3"/>
<line x1="815.5" y1="1127.9" x2="815.5" y2="1191.9" stroke="#000" stroke-width="4.3"/>
<line x1="840.1" y1="1127.9" x2="840.1" y2="1191.9" stroke="#000" stroke-width="4.3"/>
<line x1="840.1" y1="1191.9" x2="901.7" y2="1191.9" stroke="#000" stroke-width="4.3"/>
<line x1="840.1" y1="1213.6" x2="901.7" y2="1213.6" stroke="#000" stroke-width="4.3"/>
<line x1="840.1" y1="1236" x2="901.7" y2="1236" stroke="#000" stroke-width="4.3"/>
<line x1="841.2" y1="1190.7" x2="871.1" y2="1128.1" stroke="#000" stroke-width="4.3"/>
<line x1="841.2" y1="1190.7" x2="901.7" y2="1148.6" stroke="#000" stroke-width="4.3"/>
<line x1="737.9" y1="1158.2" x2="808" y2="1158.2" stroke="#000" stroke-width="3.8"/>
<polygon points="833.3,1158.2 797.8,1144.9 804.8,1158.2 797.8,1171.5" fill="#000" stroke="none" stroke-width="0" />
<polyline points="1601,1198 1668,1198 1668,1136.3 1538.3,1136.3 1538.3,1302.3 1601,1302.3 1601,1136.3" fill="none" stroke="#000" stroke-width="4.3" />
<line x1="1623.6" y1="1136.3" x2="1623.6" y2="1198" stroke="#000" stroke-width="4.3"/>
<line x1="1647.1" y1="1136.3" x2="1647.1" y2="1198" stroke="#000" stroke-width="4.3"/>
<line x1="1538.3" y1="1198" x2="1601" y2="1198" stroke="#000" stroke-width="4.3"/>
<line x1="1538.3" y1="1218.9" x2="1601" y2="1218.9" stroke="#000" stroke-width="4.3"/>
<line x1="1538.3" y1="1238.1" x2="1601" y2="1238.1" stroke="#000" stroke-width="4.3"/>
<line x1="1538.3" y1="1258.6" x2="1601" y2="1258.6" stroke="#000" stroke-width="4.3"/>
<line x1="1538.3" y1="1280.3" x2="1601" y2="1280.3" stroke="#000" stroke-width="4.3"/>
<line x1="1596.4" y1="1194.7" x2="1538.6" y2="1139.3" stroke="#000" stroke-width="4.3"/>
<line x1="1596.4" y1="1194.7" x2="1574.7" y2="1136.9" stroke="#000" stroke-width="4.3"/>
<line x1="1596.4" y1="1194.7" x2="1538.6" y2="1176.7" stroke="#000" stroke-width="4.3"/>
<line x1="1632.6" y1="1168.8" x2="1677.2" y2="1168.8" stroke="#000" stroke-width="3.8"/>
<polygon points="1607.3,1168.8 1642.9,1154.4 1635,1168.8 1641.7,1181.5" fill="#000" stroke="none" stroke-width="0" />
<text transform="translate(165.2,1351.6) scale(0.9507,1)" font-size="43" style="letter-spacing:-0.4px" stroke="#000" stroke-width="0.8">TERRASSE</text>
<text transform="translate(164,1406.2) scale(0.8963,1)" font-size="44.9" style="letter-spacing:-0.4px" stroke="#000" stroke-width="0.8">COUVERTE</text>
<text transform="translate(551.4,1387.5) scale(0.8624,1)" font-size="46" style="letter-spacing:3.4px" stroke="#000" stroke-width="0.5">SEJOUR</text>
<text transform="translate(917.4,1387.3) scale(0.8182,1)" font-size="45.7" style="letter-spacing:3.4px" stroke="#000" stroke-width="0.5">CUISINE</text>
<text transform="translate(950,1245.2) scale(0.8328,1)" font-size="40.4" style="letter-spacing:3px" stroke="#000" stroke-width="0.4">CELLIER</text>
<text transform="translate(1210,1020.2) scale(0.8097,1)" font-size="43.1" style="letter-spacing:0.9px" stroke="#000" stroke-width="0.7">WC</text>
<text transform="translate(1322.8,1046.4) scale(0.8305,1)" font-size="46.2" style="letter-spacing:0.9px" stroke="#000" stroke-width="0.7">ENTREE</text>
<text transform="translate(1279.5,1384.1) scale(0.7690,1)" font-size="49.9" style="letter-spacing:3.7px" stroke="#000" stroke-width="0.5">SALON</text>
<text transform="translate(1573.7,1384.3) scale(0.7454,1)" font-size="50.1" style="letter-spacing:3.8px" stroke="#000" stroke-width="0.5">SALON TV</text>
<text transform="translate(1833.8,1358.5) scale(0.8888,1)" font-size="45.8" style="letter-spacing:3.4px" stroke="#000" stroke-width="0.5">SALLE DE</text>
<text transform="translate(1874.5,1413.8) scale(0.8964,1)" font-size="45.8" style="letter-spacing:3.4px" stroke="#000" stroke-width="0.5">SPORT</text>
<text transform="translate(2114.9,1164.6) scale(0.8864,1)" font-size="42.3" style="letter-spacing:0.8px" stroke="#000" stroke-width="0.7">WC</text>
<text transform="translate(2084.9,1283.3) scale(0.8211,1)" font-size="44.6" style="letter-spacing:0.9px" stroke="#000" stroke-width="0.7">S.D.E</text>
<text transform="translate(2080.7,1528.4) scale(0.7791,1)" font-size="34.7" style="letter-spacing:0.7px" stroke="#000" stroke-width="0.6">HAMMAM</text>
<text transform="translate(819.9,1777.5) scale(0.7227,1)" font-size="85" style="letter-spacing:-2.4px" stroke="#000" stroke-width="1.7">REZ-DE-CHAUSSEE</text>
</svg>
</body></html>
